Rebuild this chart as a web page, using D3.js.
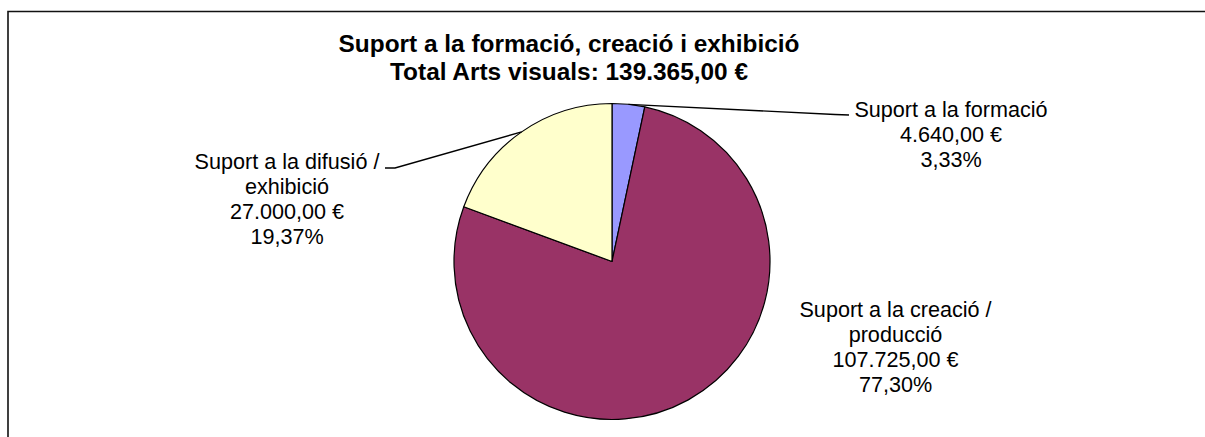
<!DOCTYPE html>
<html>
<head>
<meta charset="utf-8">
<script src="https://cdn.jsdelivr.net/npm/d3@7"></script>
<style>
  html, body { margin: 0; padding: 0; background: #fff; overflow: hidden; }
  svg { display: block; font-family: "Liberation Sans", Arial, sans-serif; }
</style>
</head>
<body>
<svg id="chart" width="1205" height="437"></svg>
<script>
// ---- data ----
const titleLines = ["Suport a la formació, creació i exhibició", "Total Arts visuals: 139.365,00 €"];
const categories = ["Suport a la formació", "Suport a la creació / producció", "Suport a la difusió / exhibició"];
const values = [4640.00, 107725.00, 27000.00];
const percents = ["3,33%", "77,30%", "19,37%"];
const amountLabels = ["4.640,00 €", "107.725,00 €", "27.000,00 €"];
const labelLines = [
  ["Suport a la formació"],
  ["Suport a la creació /", "producció"],
  ["Suport a la difusió /", "exhibició"]
];
const colors = ["#9999FF", "#993366", "#FFFFCC"];

// ---- layout ----
const W = 1205, H = 437;
const cx = 612, cy = 261.5, R = 158;
const lineH = 25;
const labelLayout = [
  { x: 951, y: 117, leader: [[835, 114.5], [849, 115]] },
  { x: 895.5, y: 317, leader: null },
  { x: 287, y: 169, leader: [[395, 168], [385, 168]] }
];

const svg = d3.select("#chart");

// frame (only top and left edges visible in the crop)
svg.append("path")
  .attr("d", `M8,${H} V11.5 H${W}`)
  .attr("fill", "none").attr("stroke", "#111").attr("stroke-width", 1.6);

// title
svg.append("text")
  .attr("x", 569).attr("y", 52)
  .attr("text-anchor", "middle")
  .attr("font-weight", "bold").attr("font-size", "24.4px")
  .selectAll("tspan").data(titleLines).join("tspan")
  .attr("x", 569).attr("dy", (d, i) => i === 0 ? 0 : 28)
  .text(d => d);

// pie
const pie = d3.pie().sort(null).value(d => d)(values);
const arc = d3.arc().innerRadius(0).outerRadius(R);
const g = svg.append("g").attr("transform", `translate(${cx},${cy})`);
g.selectAll("path").data(pie).join("path")
  .attr("d", arc)
  .attr("fill", (d, i) => colors[i])
  .attr("stroke", "#000").attr("stroke-width", 1.2)
  .attr("stroke-linejoin", "round");

// labels
pie.forEach((d, i) => {
  const L = labelLayout[i];
  const lines = labelLines[i].concat([amountLabels[i], percents[i]]);
  const t = svg.append("text")
    .attr("text-anchor", "middle")
    .attr("font-size", "21.6px")
    .attr("fill", "#000");
  lines.forEach((s, k) => {
    t.append("tspan").attr("x", L.x).attr("y", L.y + k * lineH).text(s);
  });
  if (L.leader) {
    const mid = (d.startAngle + d.endAngle) / 2;
    const p0 = [cx + R * Math.sin(mid), cy - R * Math.cos(mid)];
    const pts = [p0].concat(L.leader);
    svg.append("path")
      .attr("d", d3.line()(pts))
      .attr("fill", "none").attr("stroke", "#000").attr("stroke-width", 1.4);
  }
});
</script>
</body>
</html>
